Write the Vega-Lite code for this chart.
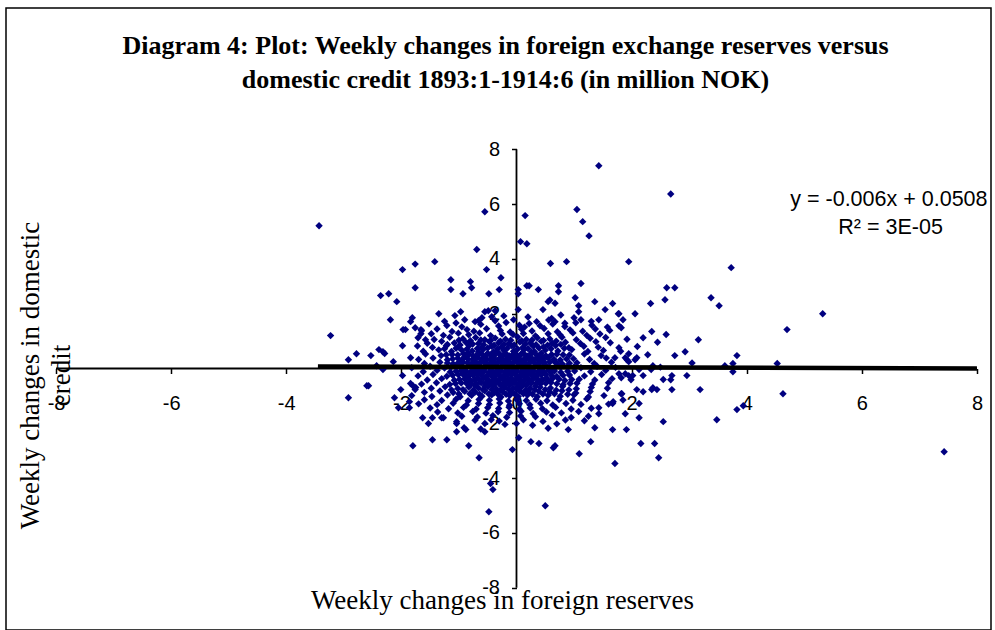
{
"$schema":"https://vega.github.io/schema/vega-lite/v6.json",
"width":985,"height":622,
"autosize":{"type":"none"},
"padding":{"left":6,"top":8,"right":4,"bottom":0},
"background":"white",
"title":{"text":["Diagram 4: Plot: Weekly changes in foreign exchange reserves versus","domestic credit 1893:1-1914:6 (in million NOK)"],"font":"Liberation Serif","fontSize":26,"fontWeight":"bold","color":"black","anchor":"middle","offset":-85,"lineHeight":34,"dx":7},
"config":{"view":{"stroke":"black","strokeWidth":1.5},
"axis":{"grid":false,"domain":false,"tickColor":"black","tickWidth":1.5,"tickSize":5,"labelFont":"Liberation Sans","labelFontSize":20,"labelColor":"black","labelOverlap":false,"labelFlush":false,"labelBound":false,"labelExpr":"'' + datum.value","titleFont":"Liberation Serif","titleFontSize":27,"titleFontWeight":"normal","titleColor":"black"}},
"datasets":{
"axes":[{"x":-8,"x2":8,"y":0,"y2":0},{"x":0,"x2":0,"y":-8,"y2":8}],
"trend":[{"x":-3.45,"y":0.0715},{"x":8.0,"y":0.0028}],
"eq":[{"x":6.47,"y":6.15,"t":"y = -0.006x + 0.0508"},{"x":6.5,"y":5.13,"t":"R² = 3E-05"}],
"pts":[
{"x":-3.43,"y":5.21},{"x":-3.23,"y":1.2},{"x":-0.55,"y":5.72},{"x":0.15,"y":5.58},{"x":0.07,"y":4.63},{"x":0.18,"y":4.55},{"x":1.43,"y":7.4},{"x":2.68,"y":6.37},{"x":1.05,"y":5.8},{"x":1.15,"y":5.36},{"x":1.26,"y":4.84},{"x":-0.69,"y":4.34},{"x":-0.52,"y":3.61},{"x":-0.27,"y":3.31},{"x":-1.98,"y":3.61},{"x":-1.76,"y":3.81},{"x":-1.42,"y":3.9},{"x":-1.76,"y":2.95},{"x":-2.36,"y":2.66},{"x":-2.22,"y":2.73},{"x":-2.08,"y":2.44},{"x":-1.14,"y":3.24},{"x":-1.14,"y":2.88},{"x":-0.8,"y":3.17},{"x":-0.78,"y":2.95},{"x":-0.93,"y":2.73},{"x":-0.48,"y":2.73},{"x":-0.3,"y":2.88},{"x":0.03,"y":2.88},{"x":0.03,"y":2.73},{"x":0.18,"y":3.02},{"x":0.22,"y":3.02},{"x":0.03,"y":2.15},{"x":0.59,"y":3.83},{"x":0.87,"y":3.9},{"x":0.73,"y":3.02},{"x":0.73,"y":2.8},{"x":0.38,"y":2.88},{"x":1.12,"y":3.1},{"x":1.02,"y":2.58},{"x":1.08,"y":2.29},{"x":1.08,"y":2.07},{"x":1.36,"y":2.44},{"x":1.54,"y":2.15},{"x":1.67,"y":2.37},{"x":1.95,"y":3.9},{"x":2.06,"y":2.0},{"x":1.77,"y":2.0},{"x":2.33,"y":2.37},{"x":2.58,"y":2.51},{"x":2.61,"y":2.95},{"x":2.75,"y":2.95},{"x":3.16,"y":1.05},{"x":2.93,"y":0.61},{"x":2.75,"y":0.47},{"x":2.2,"y":1.12},{"x":0.58,"y":2.5},{"x":0.55,"y":2.44},{"x":0.67,"y":2.38},{"x":0.46,"y":2.15},{"x":1.43,"y":1.78},{"x":-2.19,"y":1.78},{"x":-1.84,"y":1.71},{"x":-1.81,"y":1.85},{"x":-1.35,"y":2.0},{"x":-0.97,"y":2.07},{"x":-1.07,"y":1.93},{"x":-0.72,"y":1.71},{"x":-0.55,"y":2.07},{"x":-0.49,"y":2.11},{"x":-0.37,"y":2.11},{"x":-0.43,"y":1.89},{"x":-0.37,"y":1.74},{"x":-0.66,"y":1.74},{"x":-1.97,"y":1.42},{"x":-1.93,"y":1.42},{"x":-1.76,"y":1.49},{"x":-1.66,"y":1.42},{"x":-1.66,"y":1.27},{"x":-1.58,"y":1.05},{"x":-1.98,"y":0.83},{"x":-2.92,"y":0.32},{"x":-2.78,"y":0.54},{"x":-2.53,"y":0.47},{"x":-2.39,"y":0.69},{"x":-2.32,"y":0.61},{"x":-2.29,"y":0.55},{"x":-2.14,"y":0.25},{"x":-1.84,"y":0.39},{"x":-2.43,"y":0.1},{"x":-2.32,"y":-0.04},{"x":-1.98,"y":-0.26},{"x":-2.6,"y":-0.63},{"x":-2.57,"y":-0.63},{"x":-2.92,"y":-1.07},{"x":-2.01,"y":-0.77},{"x":-1.84,"y":-0.55},{"x":-1.8,"y":-0.63},{"x":-1.76,"y":-0.77},{"x":-2.12,"y":-1.07},{"x":-2.05,"y":-1.43},{"x":-1.86,"y":-1.21},{"x":-1.86,"y":-1.43},{"x":-1.8,"y":-2.82},{"x":-1.46,"y":-2.6},{"x":-1.21,"y":-2.6},{"x":-1.63,"y":-1.8},{"x":-1.46,"y":-1.8},{"x":-1.3,"y":-1.8},{"x":-1.27,"y":-1.8},{"x":-1.53,"y":-2.01},{"x":-1.04,"y":-1.94},{"x":-1.04,"y":-2.01},{"x":-0.91,"y":-2.16},{"x":-0.88,"y":-2.23},{"x":-1.04,"y":-2.31},{"x":-0.83,"y":-2.82},{"x":-0.65,"y":-3.26},{"x":-0.55,"y":-2.01},{"x":-0.55,"y":-2.31},{"x":-0.44,"y":-1.87},{"x":-0.07,"y":-2.96},{"x":0.0,"y":-2.01},{"x":0.04,"y":-2.53},{"x":0.25,"y":-2.67},{"x":0.39,"y":-2.74},{"x":0.64,"y":-2.89},{"x":0.67,"y":-2.82},{"x":-0.45,"y":-4.2},{"x":-0.41,"y":-4.42},{"x":-0.48,"y":-5.23},{"x":0.5,"y":-5.01},{"x":1.09,"y":-3.11},{"x":1.29,"y":-2.67},{"x":1.71,"y":-3.47},{"x":2.16,"y":-2.74},{"x":2.4,"y":-2.74},{"x":2.47,"y":-3.26},{"x":2.55,"y":-1.94},{"x":1.67,"y":-2.23},{"x":1.91,"y":-2.23},{"x":1.36,"y":-2.16},{"x":1.89,"y":-1.65},{"x":2.13,"y":-1.8},{"x":2.35,"y":-0.77},{"x":2.44,"y":-0.77},{"x":2.7,"y":-0.77},{"x":2.96,"y":-0.26},{"x":2.7,"y":-0.26},{"x":3.19,"y":-0.77},{"x":2.13,"y":-1.28},{"x":1.83,"y":-0.92},{"x":1.68,"y":-1.21},{"x":1.67,"y":-1.28},{"x":1.43,"y":-1.43},{"x":1.43,"y":-1.65},{"x":3.38,"y":2.58},{"x":3.52,"y":2.29},{"x":1.78,"y":2.0},{"x":1.85,"y":1.78},{"x":1.78,"y":1.56},{"x":1.82,"y":1.49},{"x":1.78,"y":0.76},{"x":1.71,"y":0.39},{"x":1.89,"y":0.39},{"x":1.92,"y":0.32},{"x":1.95,"y":0.54},{"x":2.06,"y":0.32},{"x":2.09,"y":0.39},{"x":1.95,"y":0.25},{"x":2.37,"y":0.1},{"x":1.78,"y":-0.19},{"x":1.82,"y":-0.34},{"x":1.89,"y":-0.19},{"x":1.95,"y":-0.26},{"x":1.99,"y":-0.41},{"x":2.02,"y":-0.26},{"x":2.13,"y":-0.04},{"x":2.2,"y":-0.26},{"x":2.34,"y":-0.04},{"x":2.68,"y":-0.41},{"x":2.37,"y":-0.7},{"x":2.09,"y":-0.77},{"x":1.82,"y":-0.92},{"x":3.48,"y":-1.87},{"x":3.73,"y":3.68},{"x":4.7,"y":1.42},{"x":3.83,"y":0.47},{"x":3.62,"y":0.1},{"x":3.76,"y":0.18},{"x":3.76,"y":-0.12},{"x":4.53,"y":0.18},{"x":4.63,"y":-0.92},{"x":3.83,"y":-1.5},{"x":3.94,"y":-1.36},{"x":7.43,"y":-3.04},{"x":5.32,"y":2.0},{"x":1.12,"y":1.78},
{"x":0.35,"y":1.71},{"x":0.56,"y":1.77},{"x":0.61,"y":1.83},{"x":0.67,"y":1.71},{"x":0.77,"y":1.95},{"x":0.84,"y":1.65},{"x":0.2,"y":1.88},{"x":-0.05,"y":1.78},{"x":-0.22,"y":1.92},{"x":-0.9,"y":1.78},{"x":-1.25,"y":1.72},{"x":1.0,"y":1.85},{"x":1.3,"y":1.72},{"x":-0.6,"y":1.85},
{"x":-1.52,"y":1.63},{"x":-1.21,"y":1.57},{"x":-1.05,"y":1.66},{"x":-0.95,"y":1.52},{"x":-0.62,"y":1.61},{"x":-0.31,"y":1.55},{"x":-0.18,"y":1.68},{"x":0.05,"y":1.58},{"x":0.14,"y":1.51},{"x":0.22,"y":1.64},{"x":0.41,"y":1.56},{"x":0.63,"y":1.62},{"x":0.84,"y":1.53},{"x":1.03,"y":1.67},{"x":1.31,"y":1.58},{"x":1.58,"y":1.51},
{"x":-1.65,"y":1.38},{"x":-1.38,"y":1.44},{"x":-1.12,"y":1.35},{"x":-0.86,"y":1.42},{"x":-0.74,"y":1.36},{"x":-0.52,"y":1.45},{"x":-0.28,"y":1.39},{"x":-0.11,"y":1.33},{"x":0.09,"y":1.43},{"x":0.27,"y":1.37},{"x":0.48,"y":1.46},{"x":0.71,"y":1.34},{"x":0.93,"y":1.41},{"x":1.15,"y":1.36},{"x":1.37,"y":1.44},{"x":1.62,"y":1.39},{"x":2.35,"y":1.35},
{"x":-1.48,"y":1.27},{"x":-1.27,"y":1.21},{"x":-1.01,"y":1.29},{"x":-0.83,"y":1.23},{"x":-0.64,"y":1.3},{"x":-0.45,"y":1.2},{"x":-0.25,"y":1.26},{"x":-0.06,"y":1.24},{"x":0.12,"y":1.28},{"x":0.33,"y":1.19},{"x":0.55,"y":1.27},{"x":0.76,"y":1.22},{"x":0.98,"y":1.3},{"x":1.22,"y":1.21},{"x":1.45,"y":1.26},{"x":2.6,"y":1.24},
{"x":-1.71,"y":1.12},{"x":-1.43,"y":1.06},{"x":-1.16,"y":1.14},{"x":-0.93,"y":1.09},{"x":-0.71,"y":1.13},{"x":-0.55,"y":1.05},{"x":-0.37,"y":1.11},{"x":-0.19,"y":1.07},{"x":0.02,"y":1.15},{"x":0.17,"y":1.06},{"x":0.36,"y":1.12},{"x":0.58,"y":1.08},{"x":0.79,"y":1.14},{"x":1.04,"y":1.05},{"x":1.28,"y":1.1},{"x":1.55,"y":1.13},{"x":1.92,"y":1.07},
{"x":-1.55,"y":0.92},{"x":-1.3,"y":0.99},{"x":-1.08,"y":0.93},{"x":-0.88,"y":0.96},{"x":-0.66,"y":0.91},{"x":-0.47,"y":0.98},{"x":-0.31,"y":0.94},{"x":-0.14,"y":0.9},{"x":0.06,"y":0.97},{"x":0.24,"y":0.93},{"x":0.43,"y":0.99},{"x":0.62,"y":0.92},{"x":0.85,"y":0.96},{"x":1.11,"y":0.91},{"x":1.38,"y":0.98},{"x":1.63,"y":0.94},{"x":2.45,"y":0.96},
{"x":-1.72,"y":0.82},{"x":-1.46,"y":0.77},{"x":-1.22,"y":0.83},{"x":-1.01,"y":0.79},{"x":-0.82,"y":0.84},{"x":-0.61,"y":0.76},{"x":-0.43,"y":0.81},{"x":-0.26,"y":0.78},{"x":-0.08,"y":0.83},{"x":0.11,"y":0.77},{"x":0.29,"y":0.82},{"x":0.47,"y":0.79},{"x":0.68,"y":0.84},{"x":0.91,"y":0.76},{"x":1.17,"y":0.81},{"x":1.42,"y":0.78},{"x":2.1,"y":0.8},
{"x":-1.62,"y":0.63},{"x":-1.35,"y":0.68},{"x":-1.13,"y":0.62},{"x":-0.95,"y":0.67},{"x":-0.77,"y":0.64},{"x":-0.58,"y":0.69},{"x":-0.4,"y":0.61},{"x":-0.22,"y":0.66},{"x":-0.05,"y":0.63},{"x":0.13,"y":0.68},{"x":0.31,"y":0.62},{"x":0.5,"y":0.67},{"x":0.72,"y":0.64},{"x":0.96,"y":0.69},{"x":1.24,"y":0.62},{"x":1.51,"y":0.66},{"x":1.81,"y":0.63},
{"x":-1.58,"y":0.53},{"x":-1.31,"y":0.47},{"x":-1.12,"y":0.51},{"x":-0.92,"y":0.54},{"x":-0.75,"y":0.46},{"x":-0.6,"y":0.52},{"x":-0.44,"y":0.49},{"x":-0.3,"y":0.55},{"x":-0.15,"y":0.47},{"x":0.0,"y":0.51},{"x":0.16,"y":0.48},{"x":0.33,"y":0.54},{"x":0.51,"y":0.46},{"x":0.7,"y":0.52},{"x":0.92,"y":0.49},{"x":1.18,"y":0.53},{"x":1.47,"y":0.47},{"x":2.28,"y":0.5},
{"x":-1.7,"y":0.33},{"x":-1.45,"y":0.38},{"x":-1.2,"y":0.32},{"x":-1.02,"y":0.37},{"x":-0.84,"y":0.34},{"x":-0.67,"y":0.39},{"x":-0.52,"y":0.31},{"x":-0.38,"y":0.36},{"x":-0.24,"y":0.33},{"x":-0.1,"y":0.38},{"x":0.06,"y":0.32},{"x":0.2,"y":0.37},{"x":0.37,"y":0.34},{"x":0.55,"y":0.39},{"x":0.76,"y":0.31},{"x":0.99,"y":0.36},{"x":1.27,"y":0.33},{"x":1.56,"y":0.38},
{"x":-1.6,"y":0.18},{"x":-1.33,"y":0.23},{"x":-1.1,"y":0.17},{"x":-0.93,"y":0.22},{"x":-0.77,"y":0.19},{"x":-0.62,"y":0.24},{"x":-0.47,"y":0.16},{"x":-0.33,"y":0.21},{"x":-0.19,"y":0.18},{"x":-0.05,"y":0.23},{"x":0.09,"y":0.17},{"x":0.24,"y":0.22},{"x":0.4,"y":0.19},{"x":0.58,"y":0.24},{"x":0.8,"y":0.16},{"x":1.05,"y":0.21},{"x":1.35,"y":0.18},{"x":1.65,"y":0.23},{"x":3.05,"y":0.2},
{"x":-1.82,"y":0.03},{"x":-1.5,"y":0.08},{"x":-1.25,"y":0.02},{"x":-1.04,"y":0.07},{"x":-0.87,"y":0.04},{"x":-0.7,"y":0.09},{"x":-0.55,"y":0.01},{"x":-0.41,"y":0.06},{"x":-0.27,"y":0.03},{"x":-0.13,"y":0.08},{"x":0.01,"y":0.02},{"x":0.15,"y":0.07},{"x":0.3,"y":0.04},{"x":0.47,"y":0.09},{"x":0.66,"y":0.01},{"x":0.88,"y":0.06},{"x":1.12,"y":0.03},{"x":1.4,"y":0.08},{"x":1.72,"y":0.04},{"x":2.5,"y":0.05},
{"x":-1.62,"y":-0.12},{"x":-1.38,"y":-0.07},{"x":-1.15,"y":-0.13},{"x":-0.96,"y":-0.08},{"x":-0.79,"y":-0.11},{"x":-0.63,"y":-0.06},{"x":-0.48,"y":-0.14},{"x":-0.34,"y":-0.09},{"x":-0.2,"y":-0.12},{"x":-0.06,"y":-0.07},{"x":0.08,"y":-0.13},{"x":0.22,"y":-0.08},{"x":0.38,"y":-0.11},{"x":0.56,"y":-0.06},{"x":0.77,"y":-0.14},{"x":1.01,"y":-0.09},{"x":1.29,"y":-0.12},{"x":1.55,"y":-0.07},
{"x":-1.71,"y":-0.27},{"x":-1.45,"y":-0.22},{"x":-1.21,"y":-0.28},{"x":-1.01,"y":-0.23},{"x":-0.83,"y":-0.26},{"x":-0.67,"y":-0.21},{"x":-0.52,"y":-0.29},{"x":-0.37,"y":-0.24},{"x":-0.23,"y":-0.27},{"x":-0.09,"y":-0.22},{"x":0.05,"y":-0.28},{"x":0.19,"y":-0.23},{"x":0.34,"y":-0.26},{"x":0.51,"y":-0.21},{"x":0.7,"y":-0.29},{"x":0.92,"y":-0.24},{"x":1.18,"y":-0.27},{"x":1.48,"y":-0.22},
{"x":-1.55,"y":-0.42},{"x":-1.3,"y":-0.37},{"x":-1.08,"y":-0.43},{"x":-0.9,"y":-0.38},{"x":-0.73,"y":-0.41},{"x":-0.57,"y":-0.36},{"x":-0.42,"y":-0.44},{"x":-0.28,"y":-0.39},{"x":-0.14,"y":-0.42},{"x":0.0,"y":-0.37},{"x":0.14,"y":-0.43},{"x":0.29,"y":-0.38},{"x":0.45,"y":-0.41},{"x":0.63,"y":-0.36},{"x":0.84,"y":-0.44},{"x":1.09,"y":-0.39},{"x":1.36,"y":-0.42},{"x":1.66,"y":-0.37},{"x":2.55,"y":-0.4},
{"x":-1.65,"y":-0.57},{"x":-1.39,"y":-0.52},{"x":-1.16,"y":-0.58},{"x":-0.96,"y":-0.53},{"x":-0.78,"y":-0.56},{"x":-0.61,"y":-0.51},{"x":-0.46,"y":-0.59},{"x":-0.31,"y":-0.54},{"x":-0.17,"y":-0.57},{"x":-0.03,"y":-0.52},{"x":0.11,"y":-0.58},{"x":0.26,"y":-0.53},{"x":0.42,"y":-0.56},{"x":0.6,"y":-0.51},{"x":0.81,"y":-0.59},{"x":1.05,"y":-0.54},{"x":1.32,"y":-0.57},{"x":1.6,"y":-0.52},
{"x":-1.75,"y":-0.69},{"x":-1.48,"y":-0.72},{"x":-1.24,"y":-0.67},{"x":-1.02,"y":-0.73},{"x":-0.83,"y":-0.68},{"x":-0.66,"y":-0.71},{"x":-0.5,"y":-0.66},{"x":-0.35,"y":-0.74},{"x":-0.2,"y":-0.69},{"x":-0.06,"y":-0.72},{"x":0.09,"y":-0.67},{"x":0.24,"y":-0.73},{"x":0.41,"y":-0.68},{"x":0.59,"y":-0.71},{"x":0.8,"y":-0.66},{"x":1.04,"y":-0.74},{"x":1.3,"y":-0.69},{"x":1.58,"y":-0.72},
{"x":-1.6,"y":-0.87},{"x":-1.33,"y":-0.82},{"x":-1.1,"y":-0.88},{"x":-0.9,"y":-0.83},{"x":-0.72,"y":-0.86},{"x":-0.55,"y":-0.81},{"x":-0.39,"y":-0.89},{"x":-0.24,"y":-0.84},{"x":-0.09,"y":-0.87},{"x":0.06,"y":-0.82},{"x":0.22,"y":-0.88},{"x":0.39,"y":-0.83},{"x":0.58,"y":-0.86},{"x":0.79,"y":-0.81},{"x":1.03,"y":-0.89},{"x":1.28,"y":-0.84},{"x":2.2,"y":-0.85},
{"x":-1.82,"y":-0.99},{"x":-1.47,"y":-1.02},{"x":-1.2,"y":-0.97},{"x":-0.98,"y":-1.03},{"x":-0.78,"y":-0.98},{"x":-0.6,"y":-1.01},{"x":-0.43,"y":-0.96},{"x":-0.27,"y":-1.04},{"x":-0.12,"y":-0.99},{"x":0.03,"y":-1.02},{"x":0.19,"y":-0.97},{"x":0.36,"y":-1.03},{"x":0.55,"y":-0.98},{"x":0.76,"y":-1.01},{"x":1.0,"y":-0.96},{"x":1.25,"y":-1.04},{"x":1.52,"y":-0.99},
{"x":-1.6,"y":-1.14},{"x":-1.3,"y":-1.17},{"x":-1.05,"y":-1.12},{"x":-0.84,"y":-1.18},{"x":-0.65,"y":-1.13},{"x":-0.47,"y":-1.16},{"x":-0.3,"y":-1.11},{"x":-0.14,"y":-1.19},{"x":0.01,"y":-1.14},{"x":0.17,"y":-1.17},{"x":0.34,"y":-1.12},{"x":0.53,"y":-1.18},{"x":0.74,"y":-1.13},{"x":0.98,"y":-1.16},{"x":1.22,"y":-1.11},{"x":1.85,"y":-1.15},
{"x":-1.7,"y":-1.29},{"x":-1.38,"y":-1.32},{"x":-1.1,"y":-1.27},{"x":-0.87,"y":-1.33},{"x":-0.66,"y":-1.28},{"x":-0.47,"y":-1.31},{"x":-0.29,"y":-1.26},{"x":-0.12,"y":-1.34},{"x":0.05,"y":-1.29},{"x":0.23,"y":-1.32},{"x":0.42,"y":-1.27},{"x":0.63,"y":-1.33},{"x":0.86,"y":-1.28},{"x":1.12,"y":-1.31},{"x":1.6,"y":-1.3},
{"x":-1.5,"y":-1.44},{"x":-1.18,"y":-1.47},{"x":-0.92,"y":-1.42},{"x":-0.7,"y":-1.48},{"x":-0.5,"y":-1.43},{"x":-0.31,"y":-1.46},{"x":-0.13,"y":-1.41},{"x":0.05,"y":-1.49},{"x":0.24,"y":-1.44},{"x":0.45,"y":-1.47},{"x":0.68,"y":-1.42},{"x":0.95,"y":-1.48},{"x":1.3,"y":-1.45},
{"x":-1.37,"y":-1.59},{"x":-1.02,"y":-1.62},{"x":-0.76,"y":-1.57},{"x":-0.53,"y":-1.63},{"x":-0.32,"y":-1.58},{"x":-0.12,"y":-1.61},{"x":0.08,"y":-1.56},{"x":0.29,"y":-1.64},{"x":0.52,"y":-1.59},{"x":0.78,"y":-1.62},{"x":1.08,"y":-1.57},
{"x":-0.95,"y":-1.74},{"x":-0.68,"y":-1.77},{"x":-0.41,"y":-1.72},{"x":-0.17,"y":-1.78},{"x":0.07,"y":-1.73},{"x":0.33,"y":-1.76},{"x":0.62,"y":-1.71},{"x":0.95,"y":-1.79},{"x":1.25,"y":-1.74},
{"x":-0.72,"y":-1.89},{"x":-0.3,"y":-1.92},{"x":0.12,"y":-1.87},{"x":0.46,"y":-1.93},{"x":0.85,"y":-1.88},{"x":1.18,"y":-1.91},
{"x":-0.2,"y":-2.04},{"x":0.28,"y":-2.07},{"x":0.7,"y":-2.02},{"x":-0.62,"y":-2.21},{"x":0.55,"y":-2.18},{"x":0.9,"y":-2.23},
{"x":-0.85,"y":0.57},{"x":-0.66,"y":0.6},{"x":-0.5,"y":0.56},{"x":-0.34,"y":0.59},{"x":-0.19,"y":0.55},{"x":-0.04,"y":0.61},{"x":0.1,"y":0.57},{"x":0.26,"y":0.6},{"x":0.43,"y":0.56},
{"x":-0.9,"y":0.42},{"x":-0.71,"y":0.45},{"x":-0.55,"y":0.41},{"x":-0.41,"y":0.44},{"x":-0.27,"y":0.4},{"x":-0.12,"y":0.46},{"x":0.03,"y":0.42},{"x":0.19,"y":0.45},{"x":0.36,"y":0.41},{"x":0.52,"y":0.44},
{"x":-0.95,"y":0.27},{"x":-0.74,"y":0.3},{"x":-0.57,"y":0.26},{"x":-0.43,"y":0.29},{"x":-0.28,"y":0.25},{"x":-0.15,"y":0.31},{"x":-0.01,"y":0.27},{"x":0.13,"y":0.3},{"x":0.29,"y":0.26},{"x":0.46,"y":0.29},{"x":0.66,"y":0.25},
{"x":-0.99,"y":0.11},{"x":-0.8,"y":0.14},{"x":-0.64,"y":0.1},{"x":-0.49,"y":0.13},{"x":-0.35,"y":0.09},{"x":-0.21,"y":0.15},{"x":-0.08,"y":0.11},{"x":0.05,"y":0.14},{"x":0.19,"y":0.1},{"x":0.34,"y":0.13},{"x":0.52,"y":0.09},{"x":0.72,"y":0.15},
{"x":-0.9,"y":-0.02},{"x":-0.73,"y":-0.05},{"x":-0.58,"y":-0.01},{"x":-0.44,"y":-0.04},{"x":-0.3,"y":0.0},{"x":-0.16,"y":-0.06},{"x":-0.02,"y":-0.02},{"x":0.12,"y":-0.05},{"x":0.27,"y":-0.01},{"x":0.43,"y":-0.04},{"x":0.62,"y":0.0},
{"x":-0.93,"y":-0.17},{"x":-0.76,"y":-0.2},{"x":-0.6,"y":-0.16},{"x":-0.45,"y":-0.19},{"x":-0.31,"y":-0.15},{"x":-0.17,"y":-0.21},{"x":-0.03,"y":-0.17},{"x":0.11,"y":-0.2},{"x":0.26,"y":-0.16},{"x":0.42,"y":-0.19},{"x":0.6,"y":-0.15},
{"x":-0.86,"y":-0.32},{"x":-0.68,"y":-0.35},{"x":-0.53,"y":-0.31},{"x":-0.39,"y":-0.34},{"x":-0.24,"y":-0.3},{"x":-0.1,"y":-0.36},{"x":0.04,"y":-0.32},{"x":0.18,"y":-0.35},{"x":0.34,"y":-0.31},{"x":0.52,"y":-0.34},
{"x":-0.8,"y":-0.47},{"x":-0.63,"y":-0.5},{"x":-0.48,"y":-0.46},{"x":-0.34,"y":-0.49},{"x":-0.2,"y":-0.45},{"x":-0.06,"y":-0.51},{"x":0.09,"y":-0.47},{"x":0.24,"y":-0.5},{"x":0.4,"y":-0.46},
{"x":-0.72,"y":-0.62},{"x":-0.55,"y":-0.65},{"x":-0.4,"y":-0.61},{"x":-0.26,"y":-0.64},{"x":-0.12,"y":-0.6},{"x":0.02,"y":-0.66},{"x":0.17,"y":-0.62},{"x":0.33,"y":-0.65},
{"x":-1.2,"y":0.88},{"x":-0.98,"y":0.86},{"x":-0.76,"y":0.89},{"x":-0.57,"y":0.87},{"x":-0.39,"y":0.85},{"x":-0.22,"y":0.88},{"x":-0.04,"y":0.86},{"x":0.15,"y":0.89},{"x":0.34,"y":0.87},{"x":0.54,"y":0.85},{"x":0.77,"y":0.88},
{"x":-1.25,"y":0.72},{"x":-1.05,"y":0.74},{"x":-0.86,"y":0.71},{"x":-0.68,"y":0.73},{"x":-0.5,"y":0.75},{"x":-0.33,"y":0.72},{"x":-0.16,"y":0.74},{"x":0.02,"y":0.71},{"x":0.2,"y":0.73},{"x":0.39,"y":0.75},{"x":0.6,"y":0.72},{"x":0.83,"y":0.74},
{"x":-1.22,"y":0.5},{"x":-1.02,"y":0.49},{"x":-0.83,"y":0.51},{"x":-0.67,"y":0.5},{"x":-0.52,"y":0.48},{"x":-0.37,"y":0.51},{"x":-0.22,"y":0.5},{"x":-0.07,"y":0.49},{"x":0.08,"y":0.51},{"x":0.24,"y":0.5},{"x":0.42,"y":0.49},{"x":0.61,"y":0.51},{"x":0.81,"y":0.5},
{"x":-1.11,"y":0.35},{"x":-0.93,"y":0.36},{"x":-0.76,"y":0.34},{"x":-0.6,"y":0.35},{"x":-0.45,"y":0.36},{"x":-0.31,"y":0.34},{"x":-0.17,"y":0.35},{"x":-0.03,"y":0.36},{"x":0.13,"y":0.34},{"x":0.28,"y":0.35},{"x":0.46,"y":0.36},{"x":0.65,"y":0.34},{"x":0.87,"y":0.35},
{"x":-1.2,"y":0.2},{"x":-1.02,"y":0.19},{"x":-0.85,"y":0.21},{"x":-0.7,"y":0.2},{"x":-0.55,"y":0.19},{"x":-0.4,"y":0.21},{"x":-0.26,"y":0.2},{"x":-0.12,"y":0.19},{"x":0.02,"y":0.21},{"x":0.16,"y":0.2},{"x":0.32,"y":0.19},{"x":0.49,"y":0.21},{"x":0.69,"y":0.2},{"x":0.92,"y":0.19},
{"x":-1.14,"y":0.05},{"x":-0.95,"y":0.06},{"x":-0.78,"y":0.04},{"x":-0.62,"y":0.05},{"x":-0.48,"y":0.06},{"x":-0.34,"y":0.04},{"x":-0.2,"y":0.05},{"x":-0.06,"y":0.06},{"x":0.08,"y":0.04},{"x":0.22,"y":0.05},{"x":0.38,"y":0.06},{"x":0.56,"y":0.04},{"x":0.77,"y":0.05},{"x":1.0,"y":0.06},
{"x":-1.05,"y":-0.1},{"x":-0.87,"y":-0.11},{"x":-0.71,"y":-0.09},{"x":-0.56,"y":-0.1},{"x":-0.41,"y":-0.11},{"x":-0.27,"y":-0.09},{"x":-0.13,"y":-0.1},{"x":0.01,"y":-0.11},{"x":0.15,"y":-0.09},{"x":0.3,"y":-0.1},{"x":0.47,"y":-0.11},{"x":0.66,"y":-0.09},{"x":0.89,"y":-0.1},
{"x":-1.11,"y":-0.25},{"x":-0.92,"y":-0.24},{"x":-0.75,"y":-0.26},{"x":-0.6,"y":-0.25},{"x":-0.45,"y":-0.24},{"x":-0.3,"y":-0.26},{"x":-0.16,"y":-0.25},{"x":-0.02,"y":-0.24},{"x":0.12,"y":-0.26},{"x":0.27,"y":-0.25},{"x":0.43,"y":-0.24},{"x":0.61,"y":-0.26},{"x":0.81,"y":-0.25},
{"x":-0.99,"y":-0.4},{"x":-0.81,"y":-0.41},{"x":-0.65,"y":-0.39},{"x":-0.5,"y":-0.4},{"x":-0.35,"y":-0.41},{"x":-0.21,"y":-0.39},{"x":-0.07,"y":-0.4},{"x":0.07,"y":-0.41},{"x":0.22,"y":-0.39},{"x":0.37,"y":-0.4},{"x":0.54,"y":-0.41},{"x":0.74,"y":-0.39},{"x":0.96,"y":-0.4},
{"x":-1.06,"y":-0.55},{"x":-0.87,"y":-0.54},{"x":-0.7,"y":-0.56},{"x":-0.54,"y":-0.55},{"x":-0.38,"y":-0.54},{"x":-0.24,"y":-0.56},{"x":-0.1,"y":-0.55},{"x":0.04,"y":-0.54},{"x":0.19,"y":-0.56},{"x":0.34,"y":-0.55},{"x":0.51,"y":-0.54},{"x":0.7,"y":-0.56},{"x":0.93,"y":-0.55},
{"x":-1.13,"y":-0.78},{"x":-0.93,"y":-0.77},{"x":-0.75,"y":-0.79},{"x":-0.58,"y":-0.78},{"x":-0.43,"y":-0.77},{"x":-0.28,"y":-0.79},{"x":-0.13,"y":-0.78},{"x":0.01,"y":-0.77},{"x":0.16,"y":-0.79},{"x":0.32,"y":-0.78},{"x":0.5,"y":-0.77},{"x":0.69,"y":-0.79},{"x":0.91,"y":-0.78},
{"x":-1.0,"y":-0.93},{"x":-0.81,"y":-0.92},{"x":-0.64,"y":-0.94},{"x":-0.48,"y":-0.93},{"x":-0.33,"y":-0.92},{"x":-0.18,"y":-0.94},{"x":-0.03,"y":-0.93},{"x":0.12,"y":-0.92},{"x":0.28,"y":-0.94},{"x":0.46,"y":-0.93},{"x":0.66,"y":-0.92},{"x":0.89,"y":-0.94},
{"x":-1.0,"y":1.03},{"x":-0.8,"y":1.01},{"x":-0.62,"y":1.04},{"x":-0.45,"y":1.02},{"x":-0.28,"y":1.0},{"x":-0.1,"y":1.03},{"x":0.09,"y":1.01},{"x":0.27,"y":1.04},{"x":0.47,"y":1.02},{"x":0.69,"y":1.0}
]},
"layer":[
{"data":{"name":"axes"},"mark":{"type":"rule","color":"black","strokeWidth":1.8},
 "encoding":{"x":{"field":"x","type":"quantitative"},"x2":{"field":"x2"},"y":{"field":"y","type":"quantitative"},"y2":{"field":"y2"}}},
{"data":{"name":"pts"},"mark":{"type":"point","shape":"diamond","filled":true,"color":"#000080","size":55,"opacity":1},
 "encoding":{
  "x":{"field":"x","type":"quantitative","scale":{"domain":[-8.869,8.244],"nice":false,"zero":false},
   "axis":{"values":[-8,-6,-4,-2,0,2,4,6,8],"offset":-261.5,"labelPadding":20,"title":"Weekly changes in foreign reserves","titleX":496,"titleY":239.5,"titleBaseline":"alphabetic","titleAlign":"center","titleAnchor":null}},
  "y":{"field":"y","type":"quantitative","scale":{"domain":[-9.544,13.157],"nice":false,"zero":false},
   "axis":{"values":[-8,-6,-4,-2,0,2,4,6,8],"offset":-510.5,"labelPadding":12,"title":["Weekly changes in domestic","credit"],"titleX":-478.5,"titleY":367,"titleAngle":270,"titleBaseline":"alphabetic","titleAlign":"center","titleLineHeight":31,"titleAnchor":null}}}},
{"data":{"name":"trend"},"mark":{"type":"line","color":"black","strokeWidth":4.5},
 "encoding":{"x":{"field":"x","type":"quantitative"},"y":{"field":"y","type":"quantitative"}}},
{"data":{"name":"eq"},"mark":{"type":"text","font":"Liberation Sans","fontSize":21.5,"color":"black","align":"center","baseline":"middle"},
 "encoding":{"x":{"field":"x","type":"quantitative"},"y":{"field":"y","type":"quantitative"},"text":{"field":"t"}}}
]
}
